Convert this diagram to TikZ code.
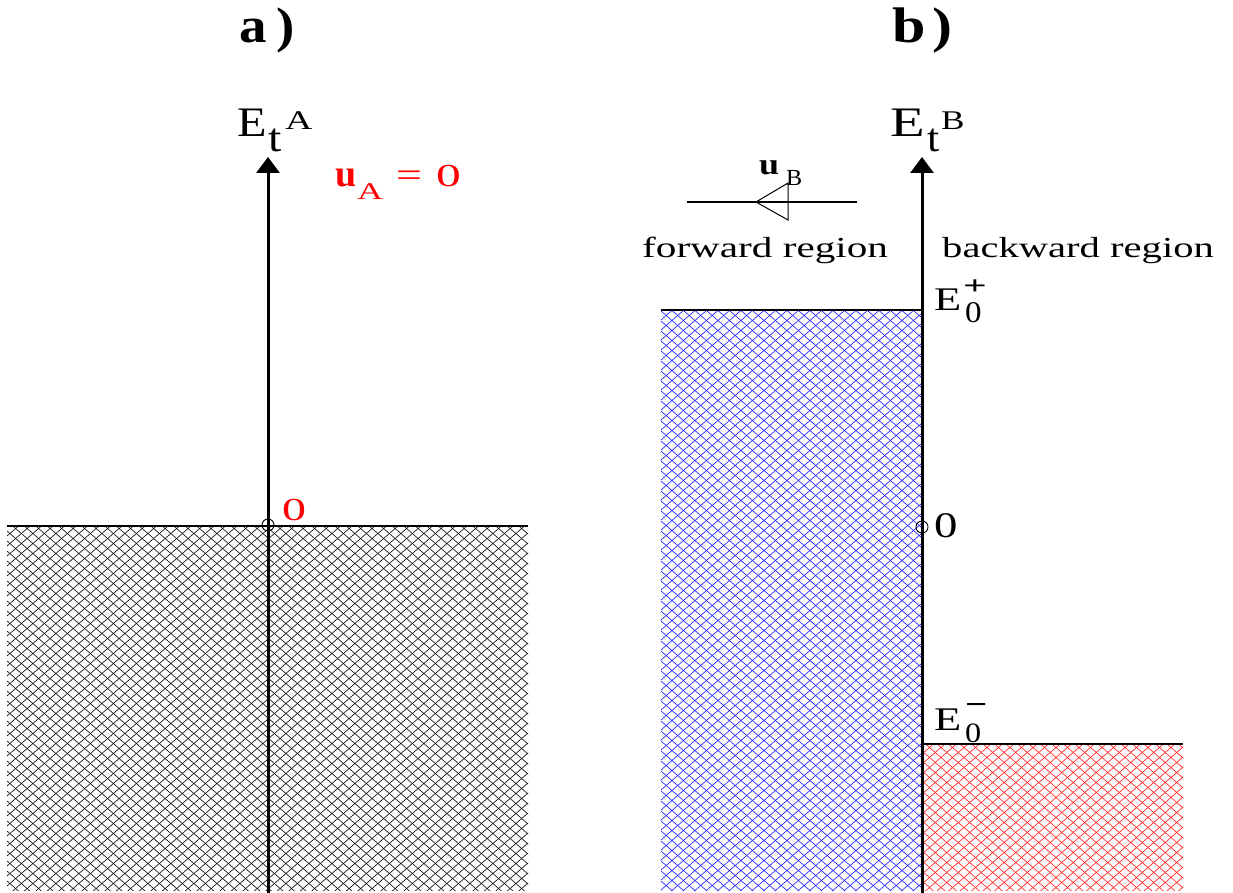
\documentclass[tikz,border=0pt]{standalone}
\usepackage{fontspec}
\usepackage{graphicx}
\setmainfont{Liberation Serif}
\usetikzlibrary{arrows.meta}
\definecolor{hblue}{RGB}{20,20,255}
\definecolor{hred}{RGB}{255,20,20}
\newcommand\gl[7]{\node[anchor=base west,inner sep=0pt,text=#7] (#1) at (#2,#3) {\fontsize{#4}{#4}\selectfont\scalebox{#5}[1]{#6}};}
\newcommand\hatchbox[5]{%
\begin{scope}
\clip (#1,#2) rectangle (#3,#4);
\pgfmathsetmacro\hH{#4-#2}
\pgfmathsetmacro\hW{\hH*1.15}
\pgfmathsetmacro\sA{#1-\hW-11.5}
\pgfmathsetmacro\sB{#1-\hW}
\foreach \c in {\sA,\sB,...,#3} {\draw[hatchline,#5] (\c,#2) -- ++(\hW,\hH);}
\pgfmathsetmacro\sC{#1+11.5}
\pgfmathsetmacro\sD{#3+\hW+11.5}
\foreach \c in {#1,\sC,...,\sD} {\draw[hatchline,#5] (\c,#2) -- ++(-\hW,\hH);}
\end{scope}}
\tikzset{
  hatchline/.style={line width=0.6pt},
  axisline/.style={line width=3pt,-{Triangle[length=16pt,width=23pt]}},
  edgeline/.style={line width=2.5pt},
  smallcirc/.style={line width=0.9pt},
}
\begin{document}
\begin{tikzpicture}[x=1pt,y=-1pt]
\useasboundingbox (0,0) rectangle (1233,893);
% hatched regions
\hatchbox{7}{526}{528}{891}{black}
\hatchbox{661}{310}{922}{891}{hblue}
\hatchbox{922}{744}{1183}{891}{hred}
% edges
\coordinate (la) at (7,526); \coordinate (ra) at (528,526);
\draw[edgeline] (la) -- (ra);
\coordinate (lb) at (661,310); \coordinate (rb) at (922,310);
\draw[edgeline] (lb) -- (rb);
\coordinate (lc) at (922,744); \coordinate (rc) at (1183,744);
\draw[edgeline] (lc) -- (rc);
% axes
\coordinate (a0) at (268,893); \coordinate (a1) at (268,157);
\draw[axisline] (a0) -- (a1);
\coordinate (b0) at (922,893); \coordinate (b1) at (922,157);
\draw[axisline] (b0) -- (b1);
% origin circles
\draw[smallcirc] (268,525) circle[radius=6pt];
\draw[smallcirc] (922,527) circle[radius=6pt];
% u_B arrow
\coordinate (ul) at (687,202); \coordinate (ur) at (857,202);
\draw[edgeline] (ul) -- (ur);
\draw[line width=1pt] (756,202) -- (788,183) -- (788,220) -- cycle;
% titles
\gl{ta}{239}{43}{50}{1.1}{\bfseries a\kern9pt)}{black}
\gl{tb}{892}{43}{50}{1.2}{\bfseries b\kern6pt)}{black}
% E_t^A
\gl{eaE}{237}{137}{42}{1.15}{E}{black}
\gl{eat}{268}{152}{40}{1.2}{t}{black}
\gl{eaA}{285}{130}{27}{1.4}{A}{black}
% E_t^B
\gl{ebE}{890}{137}{42}{1.35}{E}{black}
\gl{ebt}{927}{152}{40}{1.1}{t}{black}
\gl{ebB}{941}{130}{27}{1.3}{B}{black}
% u_A = 0
\gl{uau}{335}{187}{38}{1}{\bfseries u}{red}
\gl{uaA}{357}{200}{24}{1.5}{A}{red}
\gl{uaeq}{396}{187}{34}{1.35}{=}{red}
\gl{ua0}{436}{187}{32}{1.55}{0}{red}
% zero labels
\gl{za}{282}{520}{32}{1.5}{0}{red}
\gl{zb}{934}{537}{36}{1.3}{0}{black}
% u_B
\gl{ubu}{759}{175}{30}{1.2}{\bfseries u}{black}
\gl{ubB}{786}{186}{23}{1.05}{B}{black}
% regions
\gl{fw}{642}{258}{29}{1.42}{forward region}{black}
\gl{bw}{942}{258}{29}{1.4}{backward region}{black}
% E_0^+
\gl{epE}{934}{310}{33}{1.35}{E}{black}
\gl{ep0}{965}{322}{30}{1.1}{0}{black}
\gl{epp}{963}{294}{26}{1.6}{\bfseries +}{black}
% E_0^-
\gl{emE}{934}{730}{33}{1.35}{E}{black}
\gl{em0}{965}{742}{28}{1.15}{0}{black}
\gl{emm}{965}{714}{30}{1.3}{\bfseries \char"2212}{black}
\end{tikzpicture}
\end{document}
